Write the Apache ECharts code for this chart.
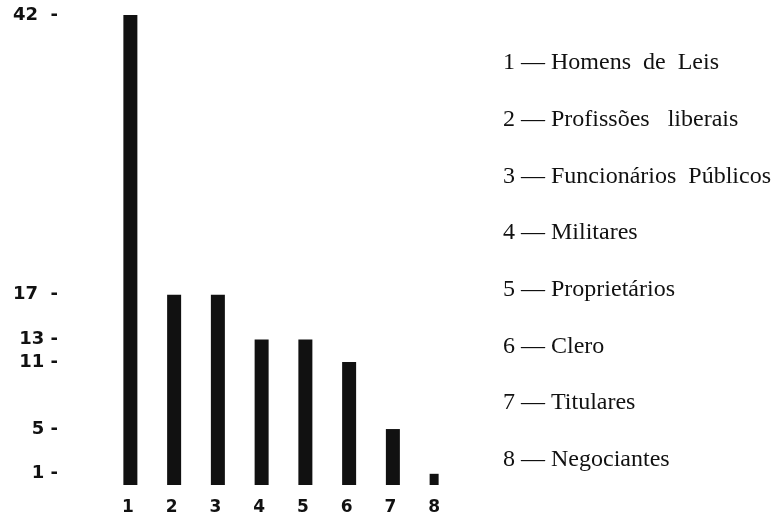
<!DOCTYPE html>
<html>
<head>
<meta charset="utf-8">
<script src="https://cdn.jsdelivr.net/npm/echarts@6/dist/echarts.min.js"></script>
<style>
  html, body { margin: 0; padding: 0; background: #fff; }
  #chart { width: 778px; height: 518px; }
</style>
</head>
<body>
<div id="chart"></div>
<script>
// data
var categories = ['1', '2', '3', '4', '5', '6', '7', '8']
var counts = [42, 17, 17, 13, 13, 11, 5, 1]
var yTicks = [1, 5, 11, 13, 17, 42]
var groupNames = [
  'Homens  de  Leis',
  'Profissões   liberais',
  'Funcionários  Públicos',
  'Militares',
  'Proprietários',
  'Clero',
  'Titulares',
  'Negociantes'
]

var chart = echarts.init(document.getElementById('chart'))

// bar 8 is drawn as a small narrower mark, so it gets its own series
var mainData = counts.map(function (v, i) { return i === 7 ? '-' : v })
var lastData = counts.map(function (v, i) { return i === 7 ? v : '-' })

var legendText = groupNames.map(function (name, i) {
  return {
    type: 'text',
    left: 503,
    top: 65 + i * 56.7 - 14,
    style: {
      text: categories[i] + ' — ' + name,
      font: '24px "Liberation Serif"',
      fill: '#111'
    }
  }
})

var option = {
  animation: false,
  backgroundColor: '#fff',
  grid: {
    left: 106,
    width: 350,
    top: 15,
    bottom: 33
  },
  xAxis: {
    type: 'category',
    data: categories,
    axisLine: { show: false },
    axisTick: { show: false },
    axisLabel: {
      margin: 14,
      color: '#111',
      fontSize: 17,
      fontWeight: 'bold',
      fontFamily: 'DejaVu Sans'
    }
  },
  yAxis: {
    type: 'value',
    min: 0,
    max: 42,
    axisLine: { show: false },
    axisTick: { show: false },
    splitLine: { show: false },
    axisLabel: {
      customValues: yTicks,
      margin: 48,
      color: '#111',
      fontSize: 18,
      fontWeight: 'bold',
      fontFamily: 'DejaVu Sans',
      formatter: function (v) { return v >= 17 ? v + '  -' : v + ' -' }
    }
  },
  series: [
    {
      type: 'bar',
      data: mainData,
      barWidth: 14,
      itemStyle: { color: '#111' }
    },
    {
      type: 'bar',
      data: lastData,
      barWidth: 9,
      barGap: '-100%',
      itemStyle: { color: '#111' }
    }
  ],
  graphic: legendText
}

chart.setOption(option)
</script>
</body>
</html>
